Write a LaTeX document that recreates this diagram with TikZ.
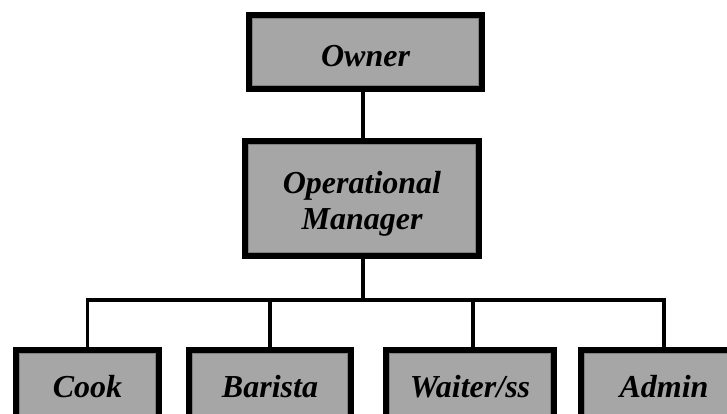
\documentclass[tikz,border=0pt]{standalone}
\usepackage{fontspec}
\setmainfont{Liberation Serif}
\definecolor{boxfill}{HTML}{A6A6A6}
\definecolor{boxinner}{HTML}{808080}
\begin{document}
\begin{tikzpicture}[x=1pt,y=-1pt,
  orgbox/.style={draw=black, line width=6pt, fill=boxfill, inner sep=0pt, outer sep=0pt,
    font=\fontsize{32}{36}\selectfont\bfseries\itshape, align=center},
  innerline/.style={draw=boxinner, line width=1pt},
  link/.style={draw=black, line width=3.5pt}]
\useasboundingbox (0,0) rectangle (727,414);
\fill[white] (0,0) rectangle (727,414);
\node[orgbox, minimum width=233pt, minimum height=74pt] (owner) at (365.5,52) {\rule{0pt}{29pt}Owner};
\node[orgbox, minimum width=234pt, minimum height=115pt] (mgr) at (362,198.5) {\rule{0pt}{33pt}Operational\\Manager};
\node[orgbox, minimum width=143pt, minimum height=74pt] (cook) at (87.5,387) {Cook};
\node[orgbox, minimum width=162pt, minimum height=74pt] (barista) at (270,387) {Barista};
\node[orgbox, minimum width=168pt, minimum height=74pt] (waiter) at (470,387) {Waiter/ss};
\node[orgbox, minimum width=166pt, minimum height=74pt] (admin) at (664,387) {Admin};
\foreach \n in {owner,mgr,cook,barista,waiter,admin}
  \draw[innerline] ([shift={(3.5,3.5)}]\n.north west) rectangle ([shift={(-3.5,-3.5)}]\n.south east);
\coordinate (bus) at (363,300);
\coordinate (wtop) at (473,347);
\draw[link] (owner.south -| bus) -- (mgr.north -| bus);
\draw[link] (mgr.south -| bus) -- (bus);
\draw[link] (cook.north) |- (bus) -| (admin.north);
\draw[link] (barista.north) -- (barista.north |- bus);
\draw[link] (waiter.north -| wtop) -- (wtop |- bus);
\end{tikzpicture}
\end{document}
